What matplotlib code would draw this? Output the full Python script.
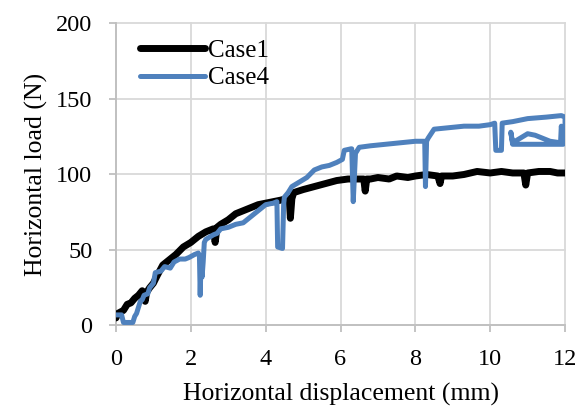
import matplotlib
matplotlib.use('Agg')
import matplotlib.pyplot as plt

plt.rcParams['font.family'] = ['Liberation Serif', 'DejaVu Serif']

# Case1: displacement (mm), load (N)
case1_x = [0.0, 0.05, 0.2, 0.3, 0.4, 0.5, 0.6, 0.7, 0.78, 0.82, 0.9, 1.0, 1.1, 1.25,
           1.4, 1.6, 1.8, 2.0, 2.2, 2.4, 2.6, 2.65, 2.7, 2.8, 3.0, 3.2, 3.4, 3.6,
           3.8, 4.0, 4.2, 4.4, 4.55, 4.63, 4.66, 4.7, 4.75, 5.0, 5.3, 5.6, 5.9,
           6.2, 6.45, 6.62, 6.66, 6.7, 6.8, 7.0, 7.3, 7.5, 7.8, 8.0, 8.3, 8.6,
           8.66, 8.7, 9.0, 9.3, 9.65, 10.0, 10.3, 10.6, 10.9, 10.95, 11.0, 11.3,
           11.6, 11.8, 12.0]
case1_y = [5, 8, 10, 14, 15, 18, 20, 23, 16, 22, 25, 28, 33, 40,
           43, 47, 52, 55, 59, 62, 64, 55, 65, 67, 70, 74, 76, 78,
           80, 81, 82, 83, 84, 84, 71, 84, 88, 90, 92, 94, 96,
           97, 97, 97, 89, 97, 97, 98, 97, 99, 98, 99, 100, 99,
           94, 99, 99, 100, 102, 101, 102, 101, 101, 93, 101, 102,
           102, 101, 101]

# Case4: displacement (mm), load (N)
case4_x = [0.0, 0.15, 0.2, 0.45, 0.5, 0.55, 0.6, 0.65, 0.7, 0.75, 0.85, 0.9, 1.0,
           1.05, 1.2, 1.3, 1.45, 1.55, 1.7, 1.85, 1.95, 2.1, 2.2, 2.23, 2.25,
           2.27, 2.3, 2.33, 2.36, 2.4, 2.6, 2.7, 2.8, 3.0, 3.2, 3.4, 3.6, 3.8,
           4.0, 4.2, 4.3, 4.32, 4.45, 4.48, 4.5, 4.6, 4.7, 4.9, 5.1, 5.3, 5.5,
           5.7, 5.9, 6.05, 6.1, 6.28, 6.3, 6.34, 6.4, 6.5, 6.8, 7.2, 7.6, 8.0,
           8.25, 8.27, 8.3, 8.34, 8.5, 8.9, 9.3, 9.7, 10.0, 10.12, 10.15, 10.3,
           10.32, 10.6, 11.0, 11.5, 11.9, 12.0, 12.0, 11.95, 11.5, 11.0, 10.6,
           10.55, 10.6, 11.0, 11.2, 11.6, 11.88, 11.9, 11.95, 12.0]
case4_y = [7, 7, 2, 2, 6, 8, 12, 16, 17, 20, 21, 25, 28,
           35, 36, 39, 38, 42, 44, 44, 45, 47, 48, 46, 20,
           40, 32, 42, 55, 57, 60, 61, 64, 65, 67, 68, 72, 76,
           80, 81, 82, 52, 51, 80, 85, 88, 92, 95, 98, 103, 105,
           106, 108, 110, 116, 117, 117, 82, 114, 118, 119, 120, 121, 122,
           122, 92, 122, 124, 130, 131, 132, 132, 133, 134, 116, 116,
           134, 135, 137, 138, 139, 138, 127, 120, 120, 120, 120,
           128, 121, 127, 126, 122, 121, 132, 122, 125]

fig = plt.figure(figsize=(5.87, 4.15), dpi=100)
ax = fig.add_axes([0.1976, 0.2157, 0.765, 0.7277])

ax.plot(case1_x, case1_y, color='black', lw=5.0, solid_joinstyle='round',
        solid_capstyle='round', label='Case1', zorder=3)
ax.plot(case4_x, case4_y, color='#4f81bd', lw=3.6, solid_joinstyle='round',
        solid_capstyle='round', label='Case4', zorder=4)

ax.set_xlim(0, 12)
ax.set_ylim(0, 200)
ax.set_xticks([0, 2, 4, 6, 8, 10, 12])
ax.set_yticks([0, 50, 100, 150, 200])
ax.grid(True, color='#d9d9d9', lw=1.3)
ax.set_axisbelow(True)
for gl in ax.get_xgridlines() + ax.get_ygridlines():
    gl.set_clip_on(False)
for s in ['top', 'right']:
    ax.spines[s].set_visible(False)
for s in ['left', 'bottom']:
    ax.spines[s].set_color('#bfbfbf')
    ax.spines[s].set_linewidth(1.3)
ax.tick_params(axis='both', colors='#bfbfbf', labelcolor='black', labelsize=17.5,
               length=5, width=1.3, pad=12)

ax.set_xlabel('Horizontal displacement (mm)', fontsize=18.5, labelpad=9)
ax.set_ylabel('Horizontal load (N)', fontsize=18.5, labelpad=6)

leg = ax.legend(loc='upper left', bbox_to_anchor=(0.015, 1.005), frameon=False,
                fontsize=18, handlelength=2.6, handletextpad=0.12,
                labelspacing=0.2, borderaxespad=0.3)

fig.savefig('out.png', dpi=100)
